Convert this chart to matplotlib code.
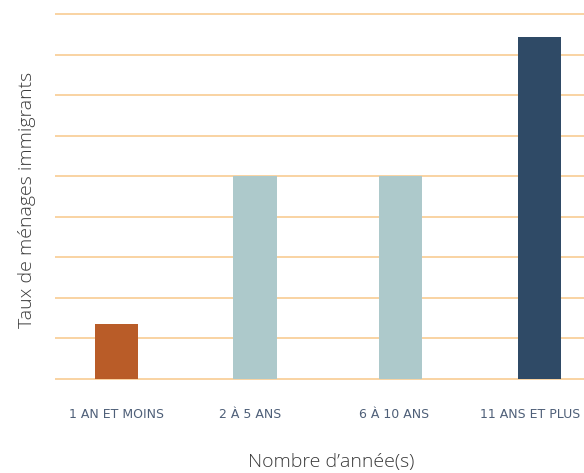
import matplotlib.pyplot as plt
import numpy as np

# Data
categories = ["1 AN ET MOINS", "2 À 5 ANS", "6 À 10 ANS", "11 ANS ET PLUS"]
values = [1.35, 5.0, 5.0, 8.45]
colors = ["#b95c28", "#adc9cb", "#adc9cb", "#2f4a66"]
grid_levels = [0, 1, 2, 3, 4, 5, 6, 7, 8, 9]

fig = plt.figure(figsize=(5.84, 4.73), dpi=100)
ax = fig.add_axes([0.094, 0.197, 0.906, 0.79])

# Orange hand-drawn-like grid lines
for g in grid_levels:
    ax.axhline(g, color="#f8c88a", lw=1.3, alpha=0.85, zorder=1)

x = np.array([0, 0.99, 2.03, 3.02])
ax.bar(x, values, width=0.31, color=colors, zorder=2)

ax.set_xlim(-0.44, 3.34)
ax.set_ylim(-0.03, 9.2)

# labels are not exactly centred under the bars
label_pos = [0.0, 0.953, 1.986, 2.953]
ax.set_xticks(label_pos)
ax.set_xticklabels(categories, fontsize=9, color="#4e5f78",
                   family=["DejaVu Sans Condensed", "DejaVu Sans"])
ax.tick_params(axis="x", length=0, pad=20)
ax.set_yticks([])

for s in ax.spines.values():
    s.set_visible(False)

fig.text(0.567, 0.004, "Nombre d’année(s)", ha="center", va="bottom",
         fontsize=14, color="#3a3a3a", family="Open Sans", fontweight="light")
fig.text(0.047, 0.577, "Taux de ménages immigrants", ha="center", va="center",
         rotation=90, fontsize=14, color="#3a3a3a", family="Open Sans",
         fontweight="light")

fig.savefig("out.png", dpi=100)
